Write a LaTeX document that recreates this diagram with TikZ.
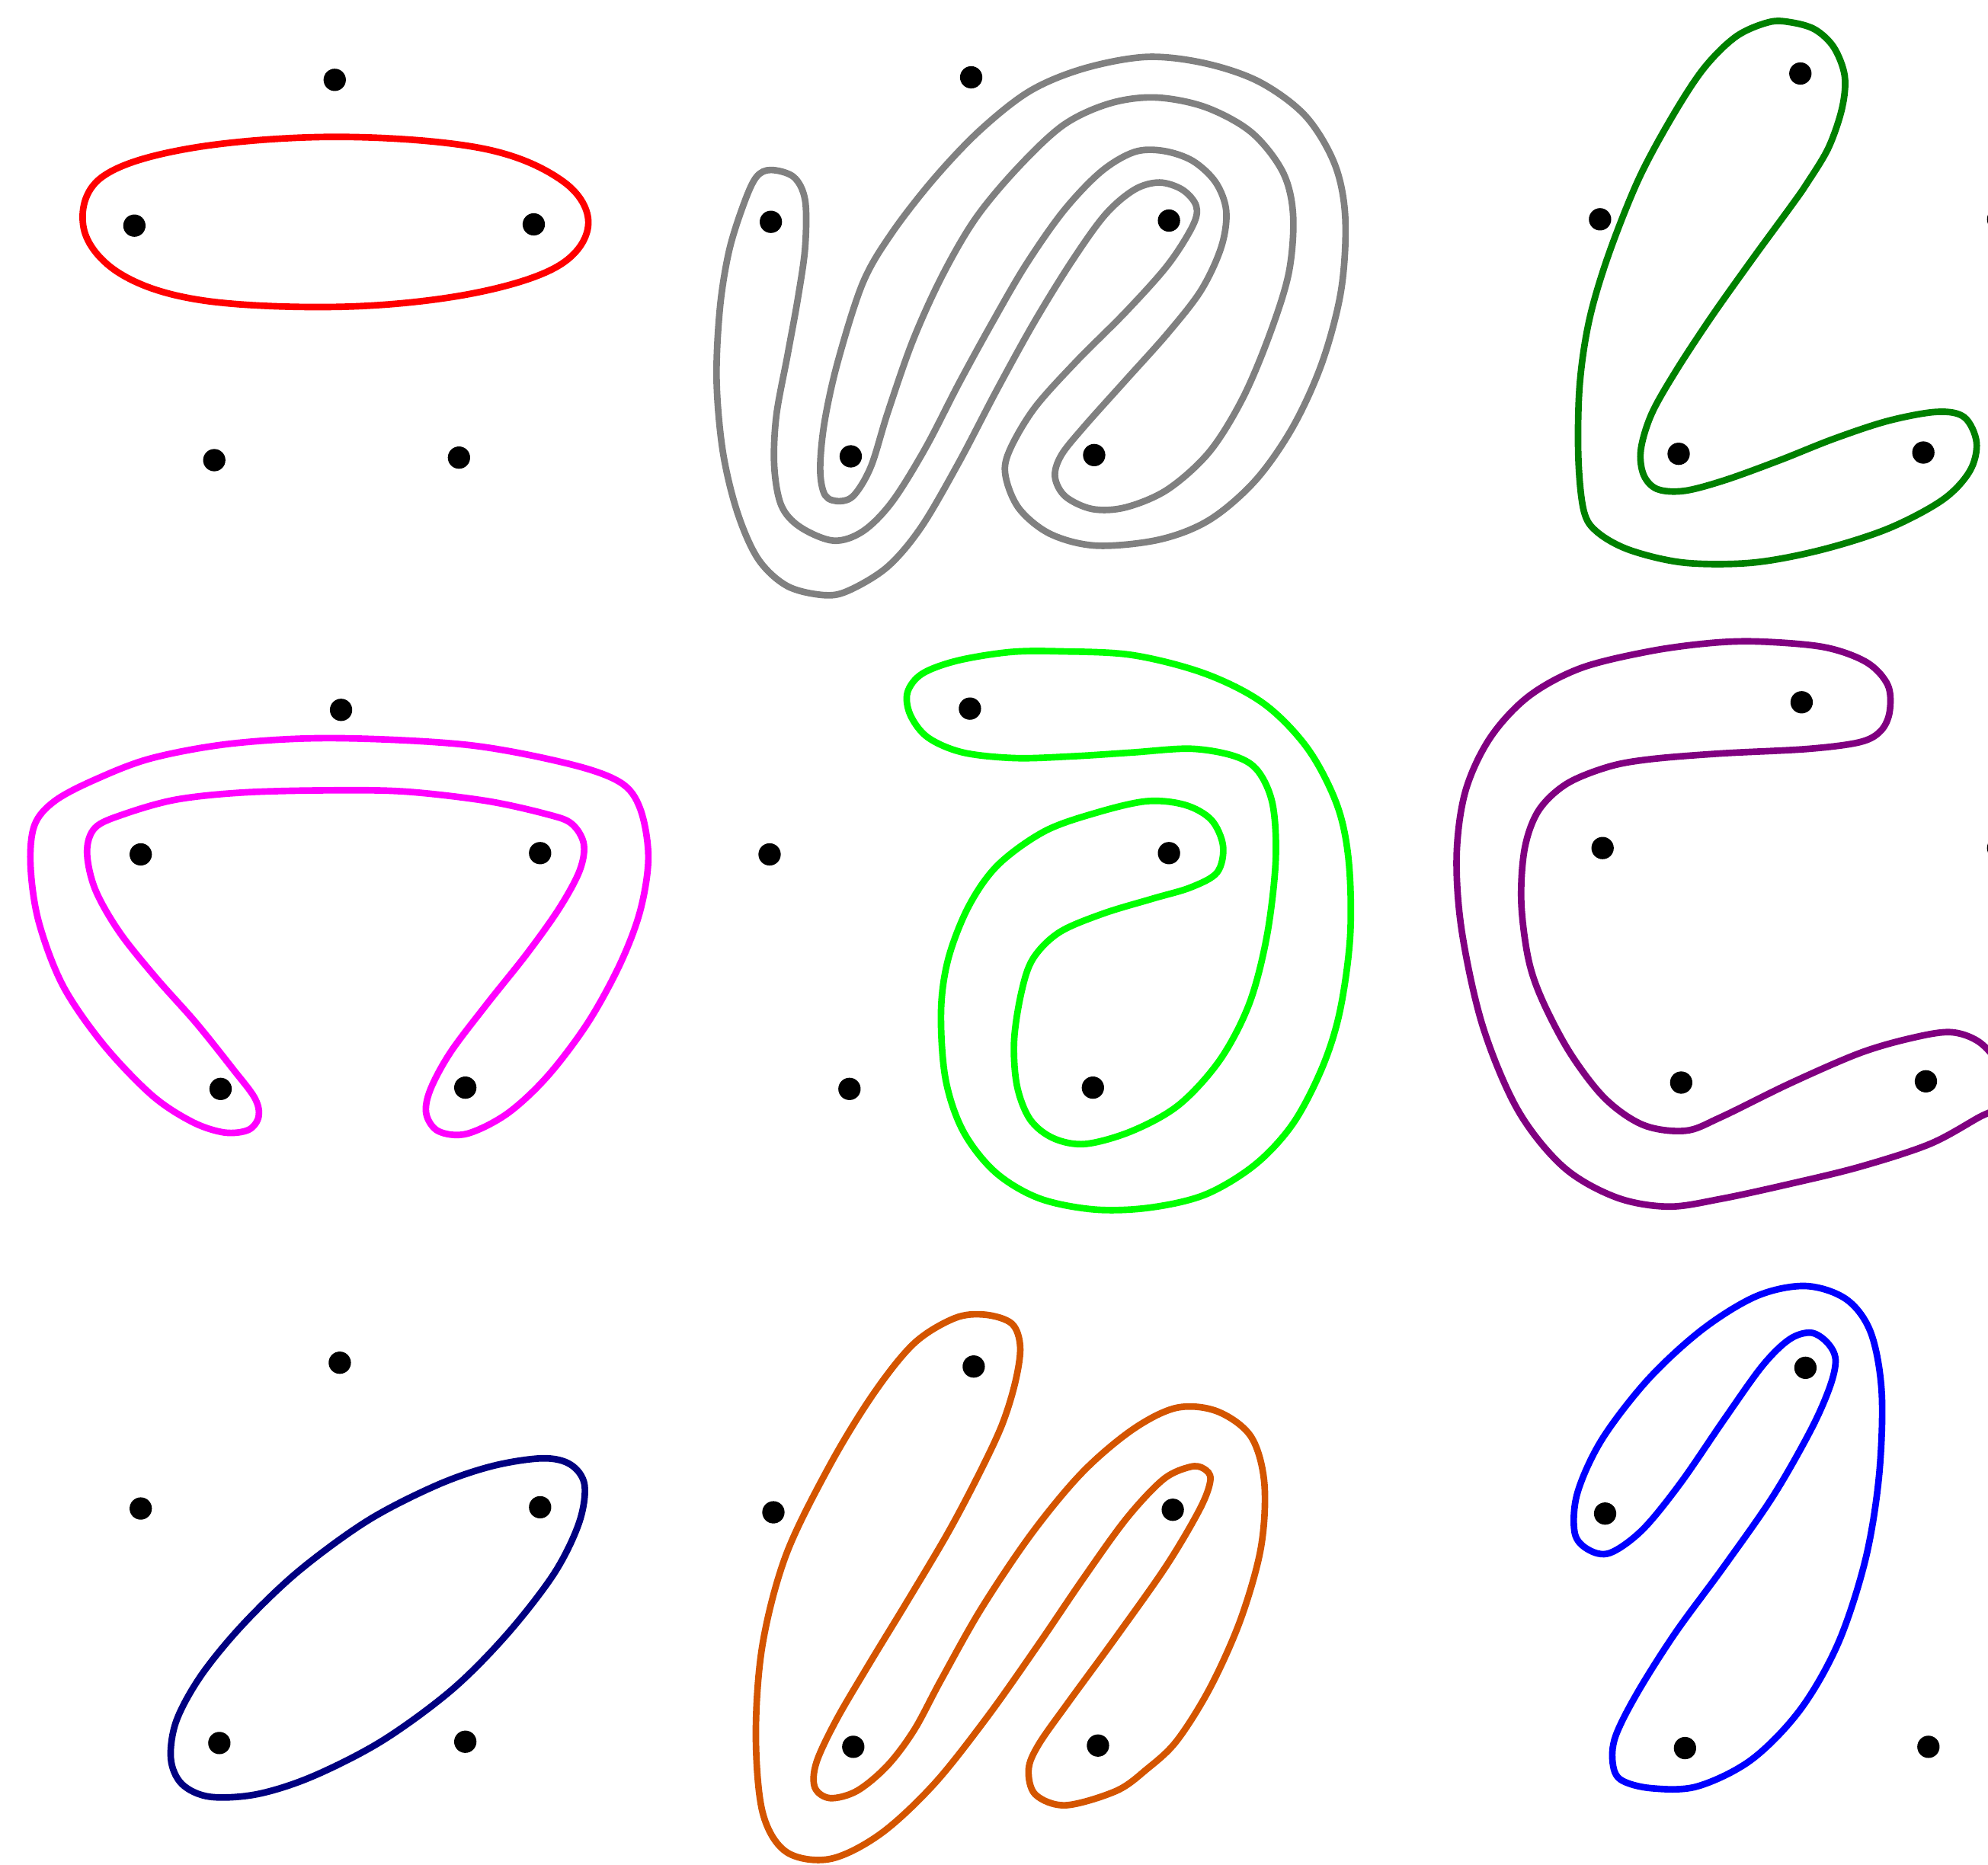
\documentclass[tikz,border=0pt]{standalone}
\usepackage{tikz}
\definecolor{cgray}{RGB}{128,128,128}
\definecolor{cdgreen}{RGB}{0,128,0}
\definecolor{clime}{RGB}{0,255,0}
\definecolor{cpurple}{RGB}{128,0,128}
\definecolor{cnavy}{RGB}{0,0,128}
\definecolor{corange}{RGB}{212,85,0}
\definecolor{cmag}{RGB}{255,0,255}
\definecolor{cred}{RGB}{255,0,0}
\definecolor{cblue}{RGB}{0,0,255}
\tikzset{
  dot/.style={circle,fill=black,inner sep=0pt,minimum size=8.8pt},
  loopline/.style={line width=2.6pt,line join=round},
}
\begin{document}
\begin{tikzpicture}[x=0.5pt,y=-0.5pt]
\useasboundingbox (0,0) rectangle (1568,1471);
\clip (0,0) rectangle (1568,1471);
% dots
\foreach \n/\px/\py in {a1/264/63,a2/106/178,a3/421/177,a4/169/363,a5/362/361,
  b1/766/61,b2/608/175,b3/922/174,b4/671/360,b5/863/359,
  c1/1420/58,c2/1262/173,c3/1576/173,c4/1324/358,c5/1517/357,
  d1/269/560,d2/111/674,d3/426/673,d4/174/859,d5/367/858,
  e1/765/559,e2/607/674,e3/922/673,e4/670/859,e5/862/858,
  f1/1421/554,f2/1264/669,f3/1576/669,f4/1326/854,f5/1519/853,
  g1/268/1075,g2/111/1190,g3/426/1189,g4/173/1375,g5/367/1374,
  h1/768/1078,h2/610/1193,h3/925/1191,h4/673/1378,h5/866/1377,
  i1/1424/1079,i2/1266/1194,i3/1581/1194,i4/1329/1379,i5/1521/1378}
  \node[dot] (\n) at (\px,\py) {};
% red
\draw[loopline,cred] plot[smooth cycle,tension=0.6] coordinates {
 (66,180) (80,140) (150,117) (265,108) (380,117) (444,143) (464,177) (440,210) (370,232) (270,242) (160,237) (95,216)};
% gray
\begin{scope}[shift={(558.6,36.4)},xscale=0.3295,yscale=0.2831]
\draw[loopline,cgray] plot[smooth cycle,tension=0.55] coordinates {
 (150,345) (205,365) (232,430) (232,560) (215,700) (190,860) (163,1030) (158,1170) (175,1280) (220,1340) (300,1378)
 (370,1352) (440,1270) (520,1120) (600,940) (680,770) (760,610) (850,460) (940,350) (1020,295) (1090,292)
 (1160,320) (1215,380) (1240,460) (1228,560)
 (1180,680) (1100,800) (1000,930) (900,1060) (845,1140) (830,1200)
 (855,1255) (920,1290) (1000,1285) (1100,1235)
 (1200,1130) (1280,980) (1345,800) (1390,630) (1400,470) (1375,350) (1300,240) (1190,170) (1070,143)
 (960,160) (850,220) (740,340) (640,480) (560,640) (490,820) (430,1020) (390,1170) (350,1250)
 (315,1268) (280,1252) (268,1180)
 (278,1050) (310,880) (370,660) (440,520) (540,370) (650,235) (770,125) (900,62) (1050,30)
 (1190,48) (1320,100) (1430,195) (1500,330) (1525,480) (1515,680) (1470,880) (1400,1060) (1310,1210) (1200,1320) (1080,1375) (930,1392)
 (820,1360) (745,1290) (712,1200) (720,1130)
 (780,1010) (880,880) (1000,740) (1100,610) (1160,500) (1168,445)
 (1135,400) (1080,380) (1020,400)
 (950,470) (870,600) (780,770) (690,960) (600,1160) (510,1340) (430,1450) (340,1515) (280,1530)
 (190,1505) (120,1430) (70,1300) (35,1130) (20,930) (28,730) (50,570) (85,440) (115,365)};
\end{scope}
% dark green
\begin{scope}[shift={(1232,6.2)},xscale=0.2144,yscale=0.2833]
\draw[loopline,cdgreen] plot[smooth cycle,tension=0.55] coordinates {
 (840,40) (930,60) (1000,110) (1040,190) (1030,280) (980,390) (900,490) (840,555) (700,700) (550,860) (420,1010) (330,1130) (290,1230) (300,1300) (350,1340) (450,1345) (600,1315) (800,1260) (1000,1200) (1200,1150) (1380,1125) (1480,1140) (1525,1210) (1500,1290) (1400,1370) (1200,1450) (950,1510) (700,1545) (450,1545) (250,1510) (130,1460) (80,1400) (60,1250) (65,1050) (100,870) (170,690) (280,480) (400,310) (520,170) (640,80) (760,40)};
\end{scope}
% magenta
\begin{scope}[shift={(17.7,570.7)},xscale=0.3185,yscale=0.2109]
\draw[loopline,cmag] plot[smooth cycle,tension=0.55] coordinates {
 (770,55) (1100,80) (1350,150) (1480,220) (1530,320) (1550,500) (1530,700) (1480,900) (1400,1120) (1300,1320) (1200,1460) (1100,1535) (1030,1525) (1000,1460) (1010,1370) (1060,1230) (1150,1050) (1250,860) (1330,690) (1380,550) (1390,450) (1360,375) (1300,340) (1150,290) (950,255) (770,250) (550,258) (380,285) (250,340) (180,390) (160,480) (180,620) (240,780) (330,950) (430,1120) (520,1290) (575,1400) (585,1470) (560,1520) (500,1530) (420,1490) (320,1390) (200,1200) (100,980) (40,740) (20,530) (30,380) (80,290) (180,210) (320,130) (520,75)};
\end{scope}
% lime
\begin{scope}[shift={(708.8,502)},xscale=0.2305,yscale=0.2955]
\draw[loopline,clime] plot[smooth cycle,tension=0.55] coordinates {
 (550,40) (800,50) (1050,100) (1250,180) (1400,300) (1500,450) (1540,600) (1545,800) (1510,1000) (1450,1150) (1350,1300) (1220,1410) (1050,1490) (860,1525) (670,1530) (480,1500) (330,1430) (220,1320) (160,1180) (145,1000) (170,860) (240,720) (340,610) (500,520) (680,470) (850,440) (980,450) (1070,490) (1110,560) (1090,630) (1000,670) (870,700) (700,740) (550,790) (460,860) (420,950) (395,1080) (405,1200) (450,1290) (530,1340) (640,1355) (800,1320) (960,1250) (1100,1130) (1200,980) (1260,800) (1290,600) (1280,450) (1230,360) (1150,320) (1000,300) (800,310) (600,320) (400,325) (220,310) (100,270) (40,210) (30,150) (80,100) (200,65) (380,42)};
\end{scope}
% purple
\begin{scope}[shift={(1136.5,495.7)},xscale=0.2754,yscale=0.2991]
\draw[loopline,cpurple] plot[smooth cycle,tension=0.55] coordinates {
 (920,35) (1100,50) (1220,90) (1280,150) (1285,220) (1260,270) (1200,300) (1050,318) (800,330) (600,345) (480,365) (360,410) (280,480) (240,580) (230,720) (250,870) (290,980) (370,1120) (470,1240) (580,1310) (700,1325) (800,1290) (1000,1200) (1200,1120) (1350,1080) (1460,1065) (1540,1090) (1600,1150) (1620,1200) (1600,1260) (1540,1290) (1400,1360) (1200,1420) (1000,1465) (800,1505) (650,1525) (500,1500) (350,1420) (220,1270) (120,1050) (60,800) (45,600) (70,430) (140,290) (250,180) (400,105) (600,60) (780,38)};
\end{scope}
% navy
\begin{scope}[shift={(126,1137.4)},xscale=0.219,yscale=0.2]
\draw[loopline,cnavy] plot[smooth cycle,tension=0.55] coordinates {
 (1380,65) (1480,90) (1530,170) (1510,320) (1420,520) (1250,760) (1050,980) (800,1180) (550,1320) (350,1390) (180,1400) (80,1350) (40,1250) (60,1100) (150,920) (300,720) (500,510) (750,310) (1000,170) (1200,95)};
\end{scope}
% orange
\begin{scope}[shift={(588.2,1028.6)},xscale=0.2656,yscale=0.2825]
\draw[loopline,corange] plot[smooth cycle,tension=0.55] coordinates {
 (710,30) (790,55) (815,120) (800,220) (760,340) (690,480) (600,640) (480,830) (370,1000) (270,1160) (210,1280) (205,1350) (250,1380) (330,1360) (420,1290) (500,1190) (580,1050) (700,850) (850,640) (1000,470) (1150,350) (1280,290) (1400,300) (1500,370) (1540,500) (1530,680) (1470,880) (1380,1070) (1280,1220) (1190,1300) (1100,1360) (950,1400) (860,1370) (840,1300) (870,1230) (960,1110) (1100,930) (1250,730) (1350,570) (1380,490) (1360,460) (1320,455) (1240,490) (1130,600) (1000,770) (870,950) (720,1150) (560,1340) (400,1480) (250,1550) (120,1530) (50,1420) (30,1200) (50,950) (120,700) (250,450) (380,250) (500,110) (620,40)};
\end{scope}
% blue
\begin{scope}[shift={(1231.3,1006.6)},xscale=0.2143,yscale=0.2632]
\draw[loopline,cblue] plot[smooth cycle,tension=0.55] coordinates {
 (900,30) (1050,70) (1140,170) (1180,350) (1170,600) (1120,850) (1020,1100) (880,1300) (700,1450) (500,1530) (330,1535) (220,1510) (190,1460) (200,1380) (280,1250) (420,1070) (600,870) (780,660) (920,460) (990,330) (1010,250) (980,200) (920,170) (840,190) (740,270) (600,430) (440,620) (300,760) (180,830) (100,820) (50,770) (60,650) (150,490) (320,310) (520,160) (720,60)};
\end{scope}
\end{tikzpicture}
\end{document}
